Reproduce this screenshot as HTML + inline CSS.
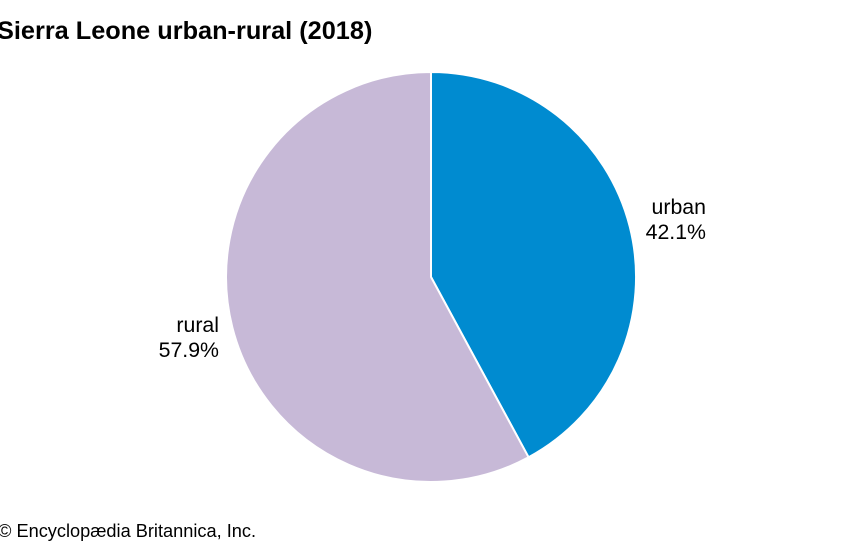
<!DOCTYPE html>
<html><head><meta charset="utf-8"><style>
html,body{margin:0;padding:0;background:#fff;width:863px;height:551px;overflow:hidden}
</style></head><body>
<svg width="863" height="551" viewBox="0 0 863 551" xmlns="http://www.w3.org/2000/svg" font-family="Liberation Sans, sans-serif">
<text x="-3" y="39" font-size="25.3" font-weight="bold" fill="#000">Sierra Leone urban-rural (2018)</text>
<path d="M431,277 L431,72 A205,205 0 0 1 528.6,457.3 Z" fill="#008bd0" stroke="#fff" stroke-width="2"/>
<path d="M431,277 L528.6,457.3 A205,205 0 1 1 431,72 Z" fill="#c7b9d7" stroke="#fff" stroke-width="2"/>
<text x="706" y="214" font-size="21.3" text-anchor="end" fill="#000">urban</text>
<text x="706" y="239" font-size="21.3" text-anchor="end" fill="#000">42.1%</text>
<text x="219" y="332" font-size="21.3" text-anchor="end" fill="#000">rural</text>
<text x="219" y="357" font-size="21.3" text-anchor="end" fill="#000">57.9%</text>
<text x="-2" y="537" font-size="18.2" fill="#000">© Encyclopædia Britannica, Inc.</text>
</svg>
</body></html>
